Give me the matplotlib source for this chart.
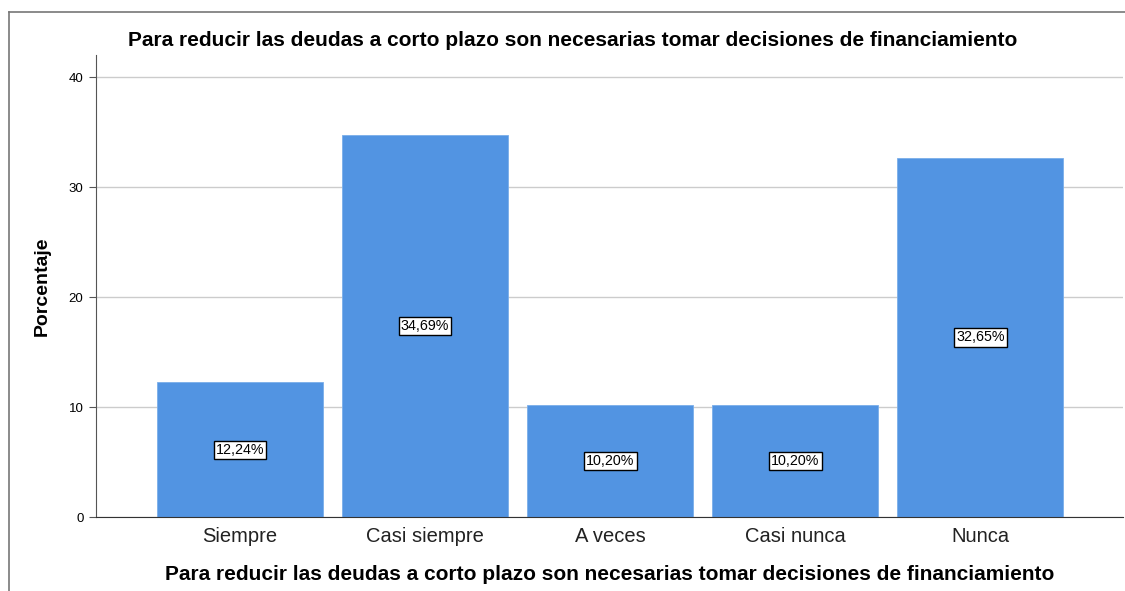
import matplotlib.pyplot as plt
from matplotlib.lines import Line2D

categories = ['Siempre', 'Casi siempre', 'A veces', 'Casi nunca', 'Nunca']
percentages = [12.24, 34.69, 10.20, 10.20, 32.65]
title = 'Para reducir las deudas a corto plazo son necesarias tomar decisiones de financiamiento'

plt.rcParams['font.family'] = ['Liberation Sans', 'DejaVu Sans']

fig = plt.figure(figsize=(11.25, 5.91), dpi=100)
ax = fig.add_axes([96 / 1125, 1 - 517 / 591, (1123 - 96) / 1125, (517 - 55) / 591])

x = range(len(categories))
ax.bar(x, percentages, width=0.897, color='#5294e2', edgecolor='#7aaeea', linewidth=0.6, zorder=2)

# value labels in boxes at bar mid-height
for xi, v in zip(x, percentages):
    ax.text(xi, v / 2, f'{v:.2f}%'.replace('.', ','), ha='center', va='center', fontsize=10.3,
            bbox=dict(boxstyle='square,pad=0.15', fc='white', ec='black', lw=1.0), zorder=3)

ax.set_xlim(-0.778, 4.77)
ax.set_ylim(0, 42)
ax.set_yticks([0, 10, 20, 30, 40])
ax.set_xticks(list(x))
ax.set_xticklabels(categories, fontsize=14.5, color='#222222')
ax.tick_params(axis='x', length=0, pad=7)
ax.tick_params(axis='y', length=5, labelsize=9.5, color='#555555', pad=4)
ax.yaxis.grid(True, color='#cccccc', linewidth=1, zorder=0)
ax.set_axisbelow(True)
for s in ['top', 'right']:
    ax.spines[s].set_visible(False)
ax.spines['left'].set_color('#555555')
ax.spines['bottom'].set_color('#333333')

ax.set_xlabel(title, fontsize=15, fontweight='bold', labelpad=14)
ax.set_ylabel('Porcentaje', fontsize=14, fontweight='bold', labelpad=13)

fig.text(573 / 1125, 1 - 40 / 591, title, ha='center', va='center', fontsize=15, fontweight='bold')

# outer frame (top and left edges)
fig.add_artist(Line2D([9 / 1125, 9 / 1125], [0, 1 - 12 / 591], color='#777777', lw=1.2))
fig.add_artist(Line2D([9 / 1125, 1], [1 - 12 / 591, 1 - 12 / 591], color='#777777', lw=1.2))

fig.savefig('out.png', dpi=100)
